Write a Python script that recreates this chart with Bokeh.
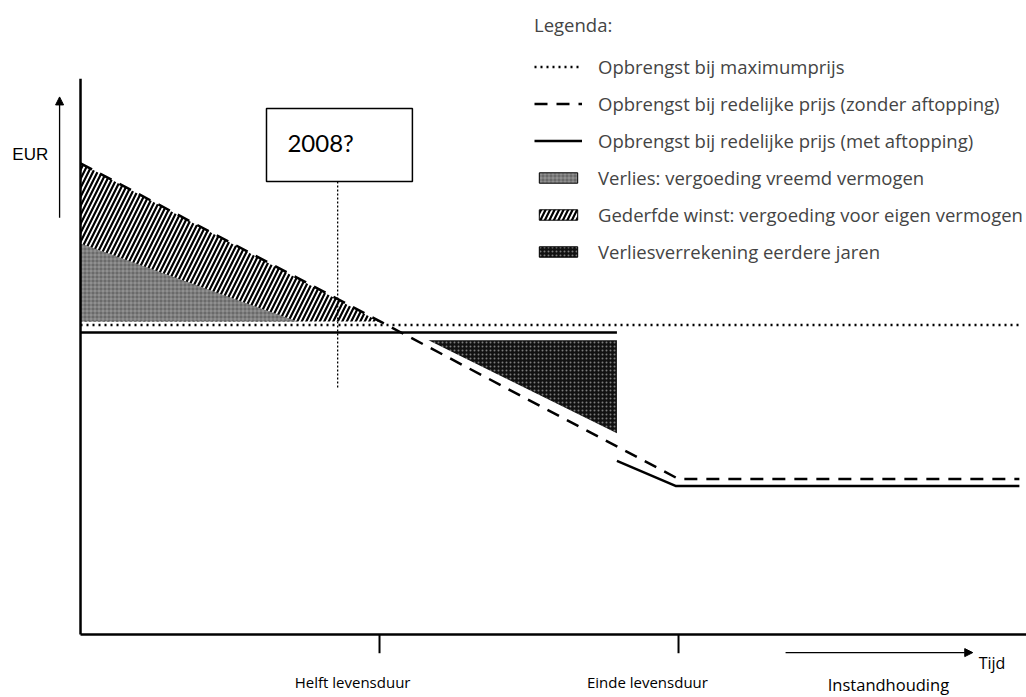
import math
from bokeh.plotting import figure
from bokeh.models import Range1d, Arrow, NormalHead, Legend, LegendItem
from bokeh.core.properties import value
from bokeh.embed import file_html
from bokeh.resources import INLINE

nan = float("nan")

# ---- data (time units: 5 = half lifetime, 10 = end of lifetime; EUR units arbitrary)
tick_t = [5.0, 10.0]
tick_labels = ["Helft levensduur", "Einde levensduur"]
extra_label = "Instandhouding"

max_t = [0.0, 15.7]            # Opbrengst bij maximumprijs
max_v = [10.25, 10.25]

zonder_t = [0.0, 10.0, 15.7]   # redelijke prijs (zonder aftopping)
zonder_v = [15.6, 5.15, 5.15]

met_t = [0.0, 8.97, nan, 8.97, 9.95, 15.7]   # redelijke prijs (met aftopping)
met_v = [10.0, 10.0, nan, 5.75, 4.92, 4.92]

verlies_t = [0.0, 3.63, 0.0]   # Verlies: vergoeding vreemd vermogen
verlies_v = [12.95, 10.36, 10.36]

gederfd_t = [0.0, 4.99, 0.0]   # Gederfde winst
gederfd_v = [15.6, 10.36, 10.36]

verrek_t = [5.82, 8.97, 8.97]  # Verliesverrekening eerdere jaren
verrek_v = [9.74, 9.74, 6.66]

year_label = "2008?"
year_box_t = [3.11, 5.55]
year_box_v = [15.0, 17.42]
year_marker_t = [4.3, 4.3]
year_marker_v = [15.0, 8.18]

axis_top = 18.4
axis_right = 15.82

FONT = "Open Sans"

p = figure(width=1026, height=697, output_backend="svg", toolbar_location=None,
           x_range=Range1d(-1.338, 15.819), y_range=Range1d(-2.086, 20.993),
           x_axis_location=None, y_axis_location=None, min_border=0)
p.outline_line_color = None
p.grid.visible = False
p.background_fill_color = "white"

GRAY = dict(fill_color="#6a6a6a", hatch_pattern="cross", hatch_color="white",
            hatch_scale=4, hatch_weight=0.8, hatch_alpha=0.35)
STRIPE = dict(fill_color="white", hatch_pattern="right_diagonal_line",
              hatch_color="black", hatch_scale=9, hatch_weight=2.2)
DARK = dict(fill_color="#111111", hatch_pattern="dot", hatch_color="white",
            hatch_scale=4, hatch_weight=0.8, hatch_alpha=0.45)

# filled areas
r_ged = p.patch(gederfd_t, gederfd_v, line_color=None, **STRIPE)
r_ver = p.patch(verlies_t, verlies_v, line_color=None, **GRAY)
r_vrk = p.patch(verrek_t, verrek_v, line_color=None, **DARK)

# lines
r_max = p.line(max_t, max_v, line_color="black", line_width=2.5, line_dash="2 4")
r_zon = p.line(zonder_t, zonder_v, line_color="black", line_width=2.5, line_dash="13 9")
r_met = p.line(met_t, met_v, line_color="black", line_width=2.5)

# axes drawn as lines
p.line([0, 0], [0, axis_top], line_color="black", line_width=2.5)
p.line([0, axis_right], [0, 0], line_color="black", line_width=2.5)
p.segment(x0=tick_t, y0=[0, 0], x1=tick_t, y1=[-0.62, -0.62], line_color="black", line_width=2)

# axis arrows
p.add_layout(Arrow(x_start=-0.35, y_start=13.8, x_end=-0.35, y_end=17.8, line_width=1.3,
                   end=NormalHead(size=8, fill_color="black", line_color="black")))
p.add_layout(Arrow(x_start=11.79, y_start=-0.6, x_end=14.92, y_end=-0.6, line_width=1.3,
                   end=NormalHead(size=8, fill_color="black", line_color="black")))

p.text(x=[-1.14], y=[15.9], text=["EUR"], text_font=value("Liberation Sans"),
       text_font_size="17px", text_baseline="middle", text_align="left")
p.text(x=[15.02], y=[-0.93], text=["Tijd"], text_font=value(FONT),
       text_font_size="16px", text_baseline="middle", text_align="left")
p.text(x=[4.55, 9.48], y=[-1.58, -1.58], text=tick_labels, text_font=value(FONT),
       text_font_size="15px", text_baseline="middle", text_align="center")
p.text(x=[13.51], y=[-1.66], text=[extra_label], text_font=value(FONT),
       text_font_size="16.5px", text_baseline="middle", text_align="center")

# 2008? box with marker
p.quad(left=[year_box_t[0]], right=[year_box_t[1]], bottom=[year_box_v[0]], top=[year_box_v[1]],
       fill_color="white", line_color="black", line_width=1.5)
p.text(x=[3.46], y=[16.3], text=[year_label], text_font=value("Lato"),
       text_font_size="24px", text_baseline="middle", text_align="left")
p.line(year_marker_t, year_marker_v, line_color="black", line_width=1.3, line_dash="2 2")

# legend swatches: hidden copies of the areas with a border
lg_ver = p.patch(verlies_t, verlies_v, line_color="black", line_width=1, visible=False, **GRAY)
lg_ged = p.patch(gederfd_t, gederfd_v, line_color="black", line_width=1, visible=False, **STRIPE)
lg_vrk = p.patch(verrek_t, verrek_v, line_color="black", line_width=1, visible=False, **DARK)

legend = Legend(items=[
    LegendItem(label="Opbrengst bij maximumprijs", renderers=[r_max]),
    LegendItem(label="Opbrengst bij redelijke prijs (zonder aftopping)", renderers=[r_zon]),
    LegendItem(label="Opbrengst bij redelijke prijs (met aftopping)", renderers=[r_met]),
    LegendItem(label="Verlies: vergoeding vreemd vermogen", renderers=[lg_ver]),
    LegendItem(label="Gederfde winst: vergoeding voor eigen vermogen", renderers=[lg_ged]),
    LegendItem(label="Verliesverrekening eerdere jaren", renderers=[lg_vrk]),
], title="Legenda:", location=(534, 433), border_line_color=None,
   background_fill_alpha=0, padding=0, margin=0, glyph_width=48, glyph_height=13,
   label_standoff=16, spacing=12, label_height=20,
   label_text_font=FONT, label_text_font_size="18.5px",
   title_text_font=FONT, title_text_font_size="18.5px", title_text_font_style="normal",
   title_standoff=17, inactive_fill_alpha=0)
p.add_layout(legend)

open("out.html", "w").write(file_html(p, INLINE))
